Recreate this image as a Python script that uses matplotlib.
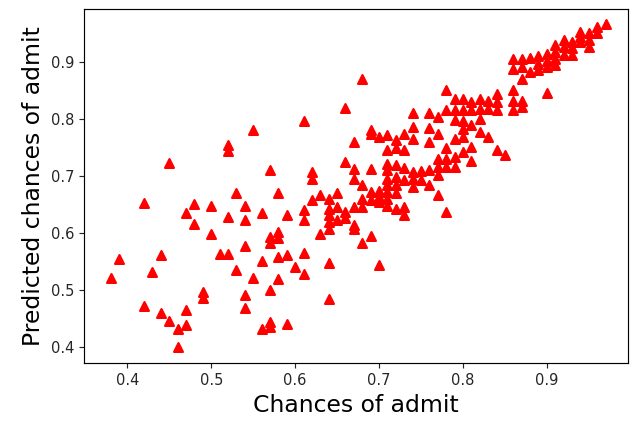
import matplotlib
matplotlib.use("Agg")
import matplotlib.pyplot as plt
import numpy as np

chances = [
    0.38, 0.39, 0.42, 0.42, 0.43, 0.44, 0.44, 0.45, 0.45, 0.46, 0.46,
    0.47, 0.47, 0.47, 0.48, 0.48, 0.49, 0.49, 0.50, 0.50, 0.51,
    0.52, 0.52, 0.52, 0.52, 0.53, 0.53, 0.54, 0.54, 0.54, 0.54, 0.54,
    0.55, 0.55, 0.56, 0.56, 0.56, 0.57, 0.57, 0.57, 0.57, 0.57, 0.57,
    0.58, 0.58, 0.58, 0.58, 0.58, 0.59, 0.59, 0.59, 0.60,
    0.61, 0.61, 0.61, 0.61, 0.61, 0.62, 0.62, 0.62, 0.63, 0.63,
    0.64, 0.64, 0.64, 0.64, 0.64, 0.64, 0.64, 0.65, 0.65, 0.65,
    0.66, 0.66, 0.66, 0.66, 0.67, 0.67, 0.67, 0.67, 0.67, 0.67,
    0.68, 0.68, 0.68, 0.68, 0.68,
    0.69, 0.69, 0.69, 0.69, 0.69, 0.69,
    0.70, 0.70, 0.70, 0.70, 0.70,
    0.71, 0.71, 0.71, 0.71, 0.71, 0.71, 0.71, 0.71, 0.71,
    0.72, 0.72, 0.72, 0.72, 0.72, 0.72, 0.72,
    0.73, 0.73, 0.73, 0.73, 0.73, 0.73,
    0.74, 0.74, 0.74, 0.74, 0.74, 0.74,
    0.75, 0.75,
    0.76, 0.76, 0.76, 0.76, 0.76,
    0.77, 0.77, 0.77, 0.77, 0.77, 0.77,
    0.78, 0.78, 0.78, 0.78, 0.78, 0.78,
    0.79, 0.79, 0.79, 0.79, 0.79, 0.79,
    0.80, 0.80, 0.80, 0.80, 0.80, 0.80,
    0.81, 0.81, 0.81, 0.81, 0.81,
    0.82, 0.82, 0.82, 0.82,
    0.83, 0.83, 0.83,
    0.84, 0.84, 0.84, 0.84,
    0.85,
    0.86, 0.86, 0.86, 0.86, 0.86,
    0.87, 0.87, 0.87, 0.87, 0.87,
    0.88, 0.88,
    0.89, 0.89, 0.89,
    0.90, 0.90, 0.90, 0.90,
    0.91, 0.91, 0.91, 0.91,
    0.92, 0.92, 0.92,
    0.93, 0.93, 0.93,
    0.94, 0.94, 0.94,
    0.95, 0.95, 0.95,
    0.96, 0.96,
    0.97,
]
predicted = [
    0.522, 0.554, 0.653, 0.472, 0.532, 0.561, 0.460, 0.723, 0.446, 0.431, 0.400,
    0.636, 0.466, 0.439, 0.651, 0.616, 0.497, 0.487, 0.647, 0.599, 0.563,
    0.755, 0.745, 0.629, 0.563, 0.671, 0.536, 0.647, 0.623, 0.577, 0.491, 0.468,
    0.782, 0.522, 0.635, 0.551, 0.431, 0.711, 0.594, 0.583, 0.500, 0.436, 0.444,
    0.671, 0.602, 0.591, 0.558, 0.519, 0.632, 0.561, 0.440, 0.541,
    0.797, 0.640, 0.623, 0.565, 0.529, 0.708, 0.696, 0.658, 0.668, 0.599,
    0.661, 0.643, 0.632, 0.620, 0.608, 0.547, 0.485, 0.670, 0.646, 0.623,
    0.820, 0.725, 0.637, 0.626, 0.760, 0.713, 0.696, 0.646, 0.614, 0.608,
    0.871, 0.684, 0.661, 0.646, 0.582,
    0.782, 0.775, 0.713, 0.672, 0.658, 0.596,
    0.769, 0.675, 0.664, 0.655, 0.544,
    0.772, 0.746, 0.722, 0.711, 0.696, 0.684, 0.672, 0.661, 0.647,
    0.764, 0.749, 0.720, 0.699, 0.684, 0.670, 0.643,
    0.775, 0.746, 0.715, 0.693, 0.646, 0.632,
    0.811, 0.786, 0.765, 0.708, 0.696, 0.681,
    0.709, 0.693,
    0.811, 0.785, 0.760, 0.711, 0.684,
    0.804, 0.774, 0.730, 0.716, 0.702, 0.667,
    0.852, 0.817, 0.749, 0.731, 0.716, 0.637,
    0.835, 0.816, 0.799, 0.766, 0.734, 0.716,
    0.836, 0.817, 0.798, 0.784, 0.769, 0.743,
    0.830, 0.816, 0.790, 0.751, 0.727,
    0.835, 0.819, 0.801, 0.778,
    0.833, 0.819, 0.769,
    0.845, 0.830, 0.816, 0.746,
    0.737,
    0.906, 0.889, 0.851, 0.833, 0.816,
    0.906, 0.892, 0.871, 0.833, 0.822,
    0.908, 0.883,
    0.912, 0.898, 0.886,
    0.915, 0.902, 0.892, 0.846,
    0.930, 0.919, 0.907, 0.895,
    0.939, 0.928, 0.913,
    0.936, 0.925, 0.913,
    0.954, 0.945, 0.936,
    0.951, 0.939, 0.928,
    0.963, 0.951,
    0.968,
]

k = 1.057  # screenshot was scaled up from a 72 dpi notebook figure

fig = plt.figure(figsize=(6.34, 4.23), dpi=100)
ax = fig.add_axes([84 / 634, 1 - 363 / 423, (628 - 84) / 634, (363 - 9) / 423])

ax.scatter(chances, predicted, c="red", marker="^", s=36 * k * k, linewidths=1.5 * k)

ax.set_xlim(0.3484, 0.9967)
ax.set_ylim(0.372, 0.994)
ax.set_xticks(np.arange(0.4, 0.95, 0.1))
ax.set_yticks(np.arange(0.4, 0.95, 0.1))
ax.tick_params(labelsize=10 * k, length=3.5 * k, width=0.8 * k, colors="#262626")
for sp in ax.spines.values():
    sp.set_linewidth(0.8 * k)

ax.set_xlabel("Chances of admit", fontsize=16 * k)
ax.set_ylabel("Predicted chances of admit", fontsize=16 * k)

fig.savefig("out.png", dpi=100)
